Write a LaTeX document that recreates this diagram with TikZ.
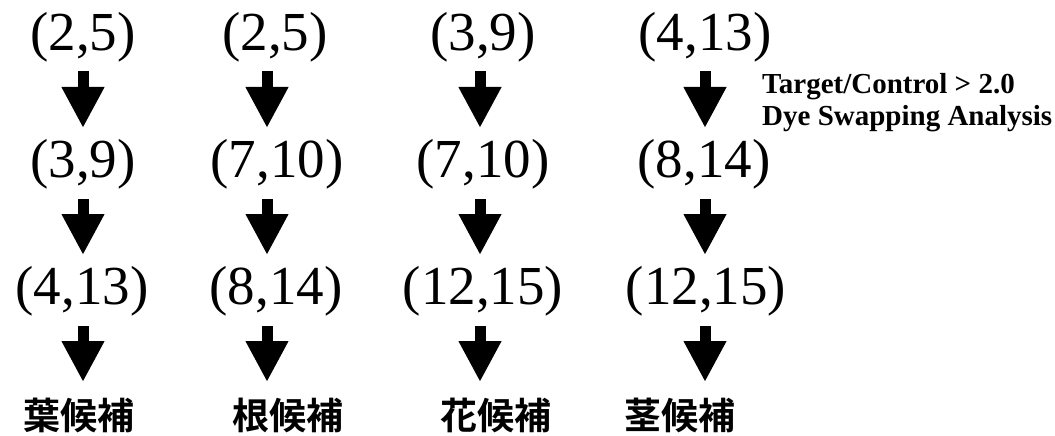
\documentclass[tikz,border=0pt]{standalone}
\usepackage{fontspec}
\setmainfont{Liberation Serif}
\newfontfamily\cjk{Noto Sans CJK JP}[BoldFont={Noto Sans CJK JP Bold}]
\usetikzlibrary{arrows.meta}
\begin{document}
\begin{tikzpicture}[x=1pt,y=-1pt,
  num/.style={anchor=base,inner sep=0pt,font=\fontsize{55}{60}\selectfont},
  lab/.style={anchor=base,inner sep=0pt,font=\cjk\bfseries\fontsize{37}{40}\selectfont},
  note/.style={anchor=base west,inner sep=0pt,font=\bfseries\fontsize{29}{32}\selectfont},
  bigarrow/.style={line width=11pt,-{Triangle[length=41pt,width=40pt]}}]
\useasboundingbox (0,0) rectangle (1055,436);
% row 1
\node[num] (a1) at (83,51) {(2,5)};
\node[num] (b1) at (275,51) {(2,5)};
\node[num] (c1) at (483,51) {(3,9)};
\node[num] (d1) at (705,51) {(4,13)};
% row 2
\node[num] (a2) at (83,177) {(3,9)};
\node[num] (b2) at (277,177) {(7,10)};
\node[num] (c2) at (483,177) {(7,10)};
\node[num] (d2) at (704,177) {(8,14)};
% row 3
\node[num] (a3) at (82,304) {(4,13)};
\node[num] (b3) at (276,304) {(8,14)};
\node[num] (c3) at (483,304) {(12,15)};
\node[num] (d3) at (706,304) {(12,15)};
% labels
\node[lab] (a4) at (79,429) {葉候補};
\node[lab] (b4) at (288,429) {根候補};
\node[lab] (c4) at (496,429) {花候補};
\node[lab] (d4) at (680,429) {茎候補};
% note
\node[note] (n1) at (762,93) {Target/Control > 2.0};
\node[note] (n2) at (762,125) {Dye Swapping Analysis};
% arrows
\foreach \c/\x in {a/83,b/267,c/480,d/705}{
  \coordinate (\c s1) at (\x,71);  \coordinate (\c e1) at (\x,128);
  \coordinate (\c s2) at (\x,199); \coordinate (\c e2) at (\x,255);
  \coordinate (\c s3) at (\x,326); \coordinate (\c e3) at (\x,382);
  \draw[bigarrow] (\c s1) -- (\c e1);
  \draw[bigarrow] (\c s2) -- (\c e2);
  \draw[bigarrow] (\c s3) -- (\c e3);
}
\end{tikzpicture}
\end{document}
